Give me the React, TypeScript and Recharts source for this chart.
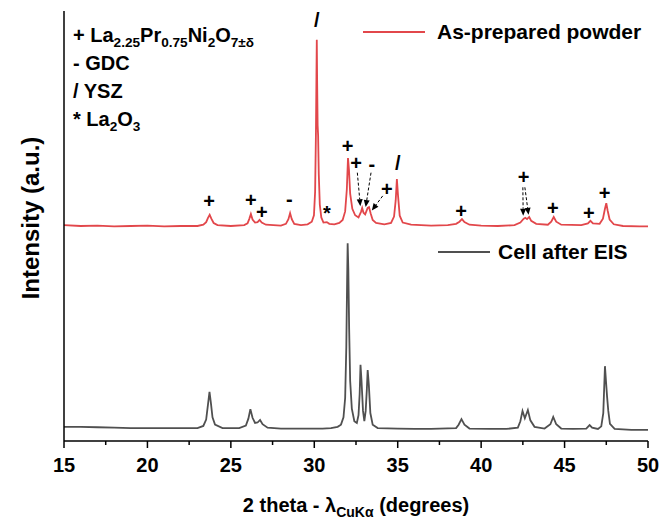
import { LineChart, Line, XAxis, YAxis, ReferenceDot, ReferenceLine } from "recharts";

const RED = "#e2474b";
const GREY = "#505050";
const FONT = "'Liberation Sans', Arial, sans-serif";

// 2 theta (deg), intensity (a.u.)
const asPrepared: [number, number][] = [
  [15, 50.2], [16, 50.0], [17, 50.1], [18, 49.9], [19, 50.0], [20, 50.1], [21, 49.9], [22, 50.0],
  [23, 50.0], [23.35, 50.3], [23.52, 50.9], [23.63, 51.9], [23.73, 52.6], [23.83, 51.7], [23.97, 50.7],
  [24.2, 50.2], [25, 50.0], [25.8, 50.2], [26.0, 50.6], [26.1, 51.6], [26.2, 52.8], [26.3, 51.5],
  [26.45, 50.8], [26.6, 50.9], [26.72, 51.4], [26.85, 50.8], [27.1, 50.3], [28.0, 50.1], [28.3, 50.5],
  [28.45, 51.6], [28.55, 53.0], [28.65, 51.6], [28.8, 50.5], [29.2, 50.2], [29.6, 50.4], [29.85, 51.0],
  [29.98, 52.5], [30.05, 58], [30.1, 72], [30.13, 85], [30.15, 93.3], [30.17, 84], [30.2, 73.5],
  [30.23, 71], [30.27, 62], [30.33, 55], [30.42, 52], [30.55, 50.8], [30.75, 50.9], [30.9, 50.5],
  [31.2, 50.4], [31.5, 50.7], [31.7, 51.4], [31.85, 53.4], [31.95, 58.5], [32.02, 65.8], [32.08, 63],
  [32.15, 57.5], [32.28, 54], [32.45, 52.5], [32.65, 52.0], [32.8, 53.3], [32.87, 54.2], [32.95, 53.1],
  [33.05, 52.7], [33.2, 54.2], [33.28, 54.4], [33.38, 52.9], [33.5, 51.4], [33.7, 50.7], [34.2, 50.4],
  [34.6, 50.7], [34.78, 52.2], [34.88, 56], [34.95, 60.9], [35.02, 57], [35.12, 52.4], [35.3, 50.8],
  [35.8, 50.3], [37, 50.1], [38, 50.2], [38.5, 50.5], [38.7, 51.0], [38.85, 51.6], [39.0, 50.9],
  [39.3, 50.3], [40, 50.1], [41, 50.0], [42, 50.2], [42.35, 50.8], [42.55, 51.7], [42.65, 51.9],
  [42.75, 51.6], [42.88, 52.1], [43.0, 51.2], [43.3, 50.5], [44.0, 50.3], [44.2, 51.0], [44.35, 52.1],
  [44.5, 51.0], [44.8, 50.3], [46.0, 50.2], [46.4, 50.6], [46.55, 51.2], [46.7, 50.6], [47.1, 50.5],
  [47.3, 51.7], [47.42, 54], [47.5, 55.3], [47.58, 53.6], [47.7, 51.5], [47.95, 50.4], [48.5, 50.0],
  [49.5, 49.9], [50, 49.9],
];

const cellAfterEis: [number, number][] = [
  [15, 3.3], [16, 3.3], [17, 3.2], [18, 3.1], [19, 3.0], [20, 3.0], [21, 3.0], [22, 3.0], [23, 3.0],
  [23.35, 3.5], [23.52, 5], [23.63, 8.5], [23.72, 11.4], [23.8, 9], [23.9, 5.5], [24.05, 3.8], [24.5, 3.0],
  [25.5, 3.0], [25.9, 3.6], [26.05, 5.2], [26.17, 7.4], [26.3, 5.4], [26.45, 4.2], [26.6, 4.3], [26.75, 4.9],
  [26.9, 3.9], [27.2, 3.1], [28, 2.9], [29, 2.9], [30, 2.9], [30.5, 2.9], [31, 3.0], [31.4, 3.3],
  [31.6, 3.8], [31.75, 5.5], [31.85, 10], [31.92, 22], [31.97, 38], [32.0, 46], [32.04, 40], [32.09, 26],
  [32.15, 14], [32.25, 7.5], [32.4, 4.6], [32.55, 4.2], [32.65, 6], [32.72, 11], [32.77, 17.7],
  [32.83, 14], [32.92, 7], [33.0, 4.6], [33.08, 7], [33.15, 12], [33.2, 16.5], [33.27, 13], [33.36, 6.5],
  [33.5, 3.8], [33.8, 3.0], [35, 2.9], [36, 2.8], [37, 2.8], [37.5, 2.9], [38.5, 3.0], [38.65, 3.8],
  [38.82, 5.1], [39.0, 3.8], [39.3, 2.9], [40.5, 2.8], [41.5, 2.8], [42.2, 3.1], [42.35, 4.6], [42.48, 7.0],
  [42.62, 5.3], [42.8, 7.2], [42.95, 4.8], [43.2, 3.3], [43.8, 2.9], [44.15, 3.9], [44.32, 5.6],
  [44.5, 3.9], [44.8, 2.9], [45.5, 2.8], [46.3, 2.9], [46.5, 3.7], [46.65, 3.1], [47.0, 2.8], [47.2, 3.4],
  [47.32, 6.5], [47.42, 17.4], [47.48, 14], [47.55, 10.2], [47.62, 7], [47.72, 4], [48.0, 2.8], [49, 2.6],
  [50, 2.6],
];

const thetaTicks = [15, 17.5, 20, 22.5, 25, 27.5, 30, 32.5, 35, 37.5, 40, 42.5, 45, 47.5, 50];

// phase symbols above the peaks
const phaseMarks = [
  { t: 23.7, i: 55.8, s: "+" },
  { t: 26.2, i: 56.0, s: "+" },
  { t: 26.85, i: 53.2, s: "+" },
  { t: 28.5, i: 56.2, s: "-" },
  { t: 30.15, i: 97.9, s: "/" },
  { t: 30.75, i: 53.0, s: "*" },
  { t: 32.0, i: 68.6, s: "+" },
  { t: 32.5, i: 64.7, s: "+" },
  { t: 33.45, i: 64.4, s: "-" },
  { t: 34.35, i: 58.6, s: "+" },
  { t: 35.0, i: 64.6, s: "/" },
  { t: 38.8, i: 53.5, s: "+" },
  { t: 42.55, i: 61.4, s: "+" },
  { t: 44.3, i: 54.2, s: "+" },
  { t: 46.45, i: 53.0, s: "+" },
  { t: 47.4, i: 57.7, s: "+" },
];

const arrows = [
  { from: [32.58, 62.4], to: [32.76, 54.6] },
  { from: [33.4, 62.4], to: [33.08, 54.4] },
  { from: [34.1, 57.0], to: [33.45, 53.6] },
  { from: [42.5, 59.0], to: [42.52, 52.4] },
  { from: [42.62, 59.0], to: [42.84, 52.6] },
];

const toPoints = (rows: [number, number][]) => rows.map(([theta, intensity]) => ({ theta, intensity }));

function ThetaTick({ x, y, payload }: any) {
  const major = payload.value % 5 === 0;
  return (
    <g>
      <line x1={x} x2={x} y1={y} y2={y + (major ? 7 : 4)} stroke="#000" strokeWidth={1.5} />
      {major && (
        <text x={x} y={y + 31} textAnchor="middle" fontFamily={FONT} fontWeight="bold" fontSize={20} fill="#000">
          {payload.value}
        </text>
      )}
    </g>
  );
}

function Mark({ cx, cy, s }: any) {
  return (
    <text x={cx} y={cy} textAnchor="middle" dominantBaseline="central" fontFamily={FONT} fontWeight="bold" fontSize={20} fill="#000">
      {s}
    </text>
  );
}

function Arrow({ x1, y1, x2, y2 }: any) {
  const a = Math.atan2(y2 - y1, x2 - x1);
  const len = 7;
  const w = 3;
  const bx = x2 - len * Math.cos(a);
  const by = y2 - len * Math.sin(a);
  const p1 = `${bx - w * Math.sin(a)},${by + w * Math.cos(a)}`;
  const p2 = `${bx + w * Math.sin(a)},${by - w * Math.cos(a)}`;
  return (
    <g>
      <line x1={x1} y1={y1} x2={bx} y2={by} stroke="#000" strokeWidth={1} strokeDasharray="3 2" />
      <polygon points={`${x2},${y2} ${p1} ${p2}`} fill="#000" />
    </g>
  );
}

const sub = { fontSize: "0.68em", verticalAlign: "-0.35em", lineHeight: 0 } as const;

export default function App() {
  return (
    <div style={{ position: "absolute", left: 0, top: 0, width: 660, height: 520, background: "#fff" }}>
      <LineChart width={660} height={520} margin={{ top: 11, right: 12, bottom: 0, left: 0 }}>
        <XAxis
          dataKey="theta"
          type="number"
          domain={[15, 50]}
          ticks={thetaTicks}
          interval={0}
          allowDataOverflow
          height={79}
          tickLine={false}
          tickSize={0}
          tickMargin={0}
          tick={<ThetaTick />}
          axisLine={{ stroke: "#000", strokeWidth: 1.5 }}
          label={{
            content: () => (
              <text x={356} y={512} textAnchor="middle" fontFamily={FONT} fontWeight="bold" fontSize={20} fill="#000">
                2 theta - λ
                <tspan fontSize={14} dy={5}>CuKα</tspan>
                <tspan dy={-5}> (degrees)</tspan>
              </text>
            ),
          }}
        />
        <XAxis xAxisId="top" orientation="top" type="number" domain={[15, 50]} height={0} tick={false} tickLine={false} axisLine={{ stroke: "#000", strokeWidth: 1.5 }} />
        <YAxis
          type="number"
          domain={[0, 100]}
          allowDataOverflow
          width={64}
          tick={false}
          tickLine={false}
          axisLine={{ stroke: "#000", strokeWidth: 1.5 }}
          label={{
            content: () => (
              <text x={30} y={218} transform="rotate(-90 30 218)" textAnchor="middle" dominantBaseline="central" fontFamily={FONT} fontWeight="bold" fontSize={24} fill="#000">
                Intensity (a.u.)
              </text>
            ),
          }}
        />
        <YAxis yAxisId="right" orientation="right" domain={[0, 100]} width={0} tick={false} tickLine={false} axisLine={{ stroke: "#000", strokeWidth: 1.5 }} />
        <Line data={toPoints(cellAfterEis)} dataKey="intensity" type="linear" stroke={GREY} strokeWidth={1.8} dot={false} isAnimationActive={false} />
        <Line data={toPoints(asPrepared)} dataKey="intensity" type="linear" stroke={RED} strokeWidth={1.8} dot={false} isAnimationActive={false} />
        {arrows.map((a, k) => (
          <ReferenceLine
            key={`arrow-${k}`}
            segment={[{ x: a.from[0], y: a.from[1] }, { x: a.to[0], y: a.to[1] }]}
            ifOverflow="visible"
            shape={(p: any) => <Arrow {...p} />}
          />
        ))}
        {phaseMarks.map((m, k) => (
          <ReferenceDot key={`mark-${k}`} x={m.t} y={m.i} ifOverflow="visible" shape={(p: any) => <Mark {...p} s={m.s} />} />
        ))}
      </LineChart>

      <div style={{ position: "absolute", left: 73, top: 21, fontFamily: FONT, fontWeight: "bold", fontSize: 20, lineHeight: "28px", color: "#000" }}>
        <div>+ La<span style={sub}>2.25</span>Pr<span style={sub}>0.75</span>Ni<span style={sub}>2</span>O<span style={sub}>7±δ</span></div>
        <div>- GDC</div>
        <div>/ YSZ</div>
        <div>* La<span style={sub}>2</span>O<span style={sub}>3</span></div>
      </div>

      <div style={{ position: "absolute", left: 363, top: 20, display: "flex", alignItems: "center", fontFamily: FONT, fontWeight: "bold", fontSize: 21, color: "#000" }}>
        <span style={{ display: "inline-block", width: 62, height: 2.5, background: RED, marginRight: 12 }} />
        As-prepared powder
      </div>
      <div style={{ position: "absolute", left: 438, top: 240, display: "flex", alignItems: "center", fontFamily: FONT, fontWeight: "bold", fontSize: 21, color: "#000" }}>
        <span style={{ display: "inline-block", width: 52, height: 1.5, background: GREY, marginRight: 8 }} />
        Cell after EIS
      </div>
    </div>
  );
}
